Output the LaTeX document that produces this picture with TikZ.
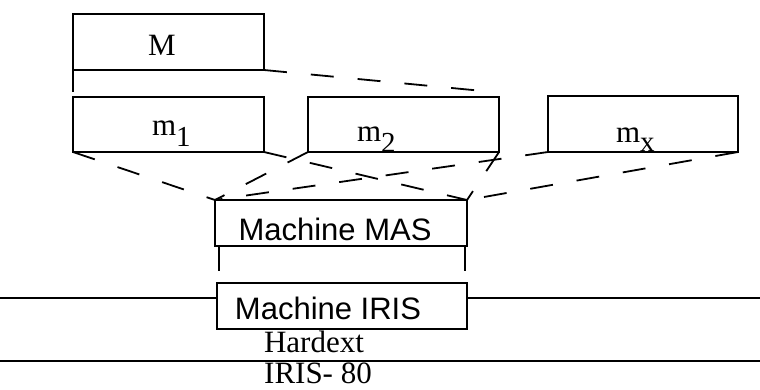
\documentclass[tikz,border=0pt]{standalone}
\usepackage{fontspec}
\setmainfont{Liberation Serif}
\newfontfamily\arialf{Liberation Sans}
\begin{document}
\begin{tikzpicture}[x=1pt,y=-1pt,
  box/.style={draw, line width=1.8pt, inner sep=0pt, outer sep=0pt},
  dl/.style={line width=1.8pt, dash pattern=on 23pt off 24pt},
  sl/.style={line width=1.8pt},
  lbl/.style={inner sep=0pt, outer sep=0pt, anchor=base, font=\fontsize{31}{36}\selectfont},
  lblw/.style={lbl, anchor=base west}]
\useasboundingbox (0,0) rectangle (760,389);
% boxes
\node[box, minimum width=191pt, minimum height=56pt] (M) at (168.5,42) {};
\node[box, minimum width=191pt, minimum height=55pt] (m1) at (168.5,124.5) {};
\node[box, minimum width=191pt, minimum height=55pt] (m2) at (403.5,124.5) {};
\node[box, minimum width=190pt, minimum height=56pt] (mx) at (643,124) {};
\node[box, minimum width=252pt, minimum height=46pt] (MAS) at (341,223) {};
\node[box, minimum width=250pt, minimum height=46pt] (IRIS) at (342,306) {};
% labels
\node[lbl] (tM) at (162,55) {M};
\node[lblw] (t1) at (152,135) {m\raisebox{-11pt}{\fontsize{29}{30}\selectfont 1}};
\node[lblw] (t2) at (357,141) {m\raisebox{-11pt}{\fontsize{29}{30}\selectfont 2}};
\node[lblw] (tx) at (616,142) {m\raisebox{-9pt}{\fontsize{29}{30}\selectfont x}};
\node[lbl, font=\arialf\fontsize{31}{36}\selectfont] (tMAS) at (335,240) {Machine MAS};
\node[lbl, font=\arialf\fontsize{31}{36}\selectfont] (tIRIS) at (328,319) {Machine IRIS};
\node[lbl] (tH) at (314,352) {Hardext};
\node[lbl] (tI) at (318,383) {IRIS- 80};
% free ends
\coordinate (Mv) at (73,92);
\coordinate (ml) at (483,91);
\coordinate (v1) at (219,271);
\coordinate (v2) at (465,271);
\coordinate (hl) at (0,298);
\coordinate (hr) at (760,298);
\coordinate (bl) at (0,361);
\coordinate (br) at (760,361);
% solid lines
\draw[sl] (M.south west) -- (Mv);
\draw[sl] (MAS.south west -| v1) -- (v1);
\draw[sl] (MAS.south east -| v2) -- (v2);
\draw[sl] (hl) -- (IRIS.west |- hl);
\draw[sl] (IRIS.east |- hr) -- (hr);
\draw[sl] (bl) -- (br);
% dashed lines
\draw[dl] (M.south east) -- (ml);
\draw[dl] (m1.south west) -- (MAS.north west);
\draw[dl] (m1.south east) -- (MAS.north east);
\draw[dl] (m2.south west) -- (MAS.north west);
\draw[dl] (m2.south east) -- (MAS.north east);
\draw[dl] (mx.south west) -- (MAS.north west);
\draw[dl] (mx.south east) -- (MAS.north east);
\end{tikzpicture}
\end{document}
